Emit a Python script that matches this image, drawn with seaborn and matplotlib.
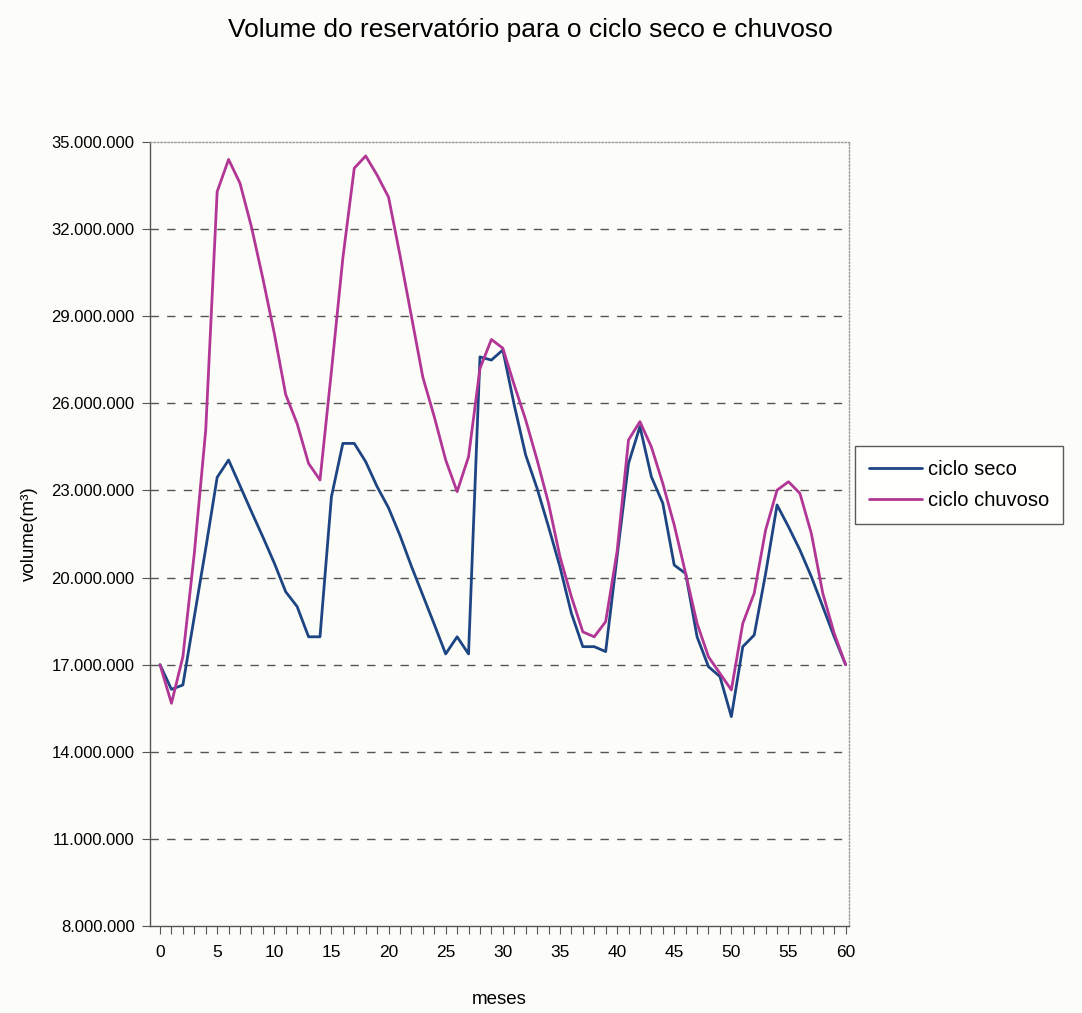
import numpy as np
import pandas as pd
import matplotlib
matplotlib.use("Agg")
import matplotlib.pyplot as plt
import seaborn as sns
from matplotlib.ticker import FuncFormatter, MultipleLocator

# ---- data (millions of m3) ----
meses = list(range(61))
ciclo_seco = [17.0, 16.15, 16.3, 18.65, 21.0, 23.45, 24.05, 23.16, 22.27, 21.4,
              20.5, 19.51, 19.0, 17.96, 17.96, 22.78, 24.62, 24.62, 23.99, 23.13,
              22.4, 21.45, 20.39, 19.39, 18.39, 17.37, 17.96, 17.37, 27.6, 27.49,
              27.84, 25.94, 24.22, 23.07, 21.75, 20.37, 18.77, 17.62, 17.62, 17.45,
              20.72, 23.93, 25.2, 23.47, 22.56, 20.43, 20.14, 17.96, 16.93, 16.59,
              15.21, 17.62, 18.02, 20.14, 22.5, 21.75, 20.95, 20.03, 19.0, 17.96,
              17.0]
ciclo_chuvoso = [17.0, 15.67, 17.27, 20.83, 25.08, 33.29, 34.4, 33.58, 32.08, 30.3,
                 28.41, 26.3, 25.3, 23.93, 23.36, 27.1, 31.0, 34.1, 34.52, 33.86,
                 33.1, 31.1, 29.0, 26.9, 25.54, 24.05, 22.96, 24.16, 27.2, 28.2,
                 27.9, 26.63, 25.43, 24.05, 22.56, 20.72, 19.34, 18.13, 17.96, 18.48,
                 20.9, 24.74, 25.37, 24.5, 23.24, 21.81, 20.14, 18.42, 17.27, 16.7,
                 16.13, 18.42, 19.46, 21.64, 23.01, 23.3, 22.9, 21.52, 19.46, 18.08,
                 17.0]
series_names = ["ciclo seco", "ciclo chuvoso"]
series_colors = ["#1d4583", "#b23696"]
y_ticks = [8e6, 11e6, 14e6, 17e6, 20e6, 23e6, 26e6, 29e6, 32e6, 35e6]
x_major = [0, 5, 10, 15, 20, 25, 30, 35, 40, 45, 50, 55, 60]

df = pd.DataFrame({
    "meses": meses * 2,
    "volume": [v * 1e6 for v in ciclo_seco] + [v * 1e6 for v in ciclo_chuvoso],
    "serie": [series_names[0]] * len(meses) + [series_names[1]] * len(meses),
})

sns.set_theme(style="white")
plt.rcParams["font.family"] = ["Liberation Sans", "DejaVu Sans"]
plt.rcParams["text.color"] = "black"
plt.rcParams["axes.labelcolor"] = "black"
plt.rcParams["xtick.labelcolor"] = "black"
plt.rcParams["ytick.labelcolor"] = "black"

bg = "#fcfcf8"
fig = plt.figure(figsize=(10.82, 10.13), dpi=100, facecolor=bg)
ax = fig.add_axes([0.1386, 0.0859, 0.6461, 0.7739])
ax.set_facecolor(bg)

sns.lineplot(data=df, x="meses", y="volume", hue="serie",
             palette=dict(zip(series_names, series_colors)),
             linewidth=2.0, ax=ax, legend=True)

ax.set_xlim(-0.88, 60.3)
ax.set_ylim(8e6, 35e6)
ax.set_yticks(y_ticks)
ax.yaxis.set_major_formatter(FuncFormatter(lambda v, p: f"{int(round(v)):,}".replace(",", ".")))
ax.set_xticks(x_major)
ax.xaxis.set_minor_locator(MultipleLocator(1))
ax.tick_params(axis="x", which="both", direction="out", length=6, width=0.8,
               color="#555555", labelsize=12.5, pad=8, bottom=True)
ax.tick_params(axis="y", which="major", direction="out", length=6, width=0.8,
               color="#555555", labelsize=12, pad=5, left=True)

for y in y_ticks[1:-1]:
    ax.axhline(y, color="#555555", linewidth=1.0, linestyle=(0, (6, 6)), zorder=0)

for s in ["left", "bottom"]:
    ax.spines[s].set_color("#555555")
    ax.spines[s].set_linewidth(1.0)
for s in ["top", "right"]:
    ax.spines[s].set_color("#999999")
    ax.spines[s].set_linewidth(1.0)
    ax.spines[s].set_linestyle((0, (1, 1.5)))

ax.set_xlabel("meses", fontsize=13.5, labelpad=22)
ax.set_ylabel("volume(m³)", fontsize=13.5, labelpad=10)

leg = ax.legend(loc="upper left", bbox_to_anchor=(1.009, 0.612), fontsize=14.5,
                frameon=True, fancybox=False, handlelength=2.6, handletextpad=0.3,
                borderpad=0.7, labelspacing=0.6, borderaxespad=0)
leg.get_frame().set_edgecolor("#333333")
leg.get_frame().set_linewidth(1.0)
leg.get_frame().set_facecolor("white")
for line in leg.get_lines():
    line.set_linewidth(2.0)

fig.text(0.49, 0.970, "Volume do reservatório para o ciclo seco e chuvoso",
         ha="center", va="center", fontsize=19)

fig.savefig("out.png", dpi=100, facecolor=bg)
